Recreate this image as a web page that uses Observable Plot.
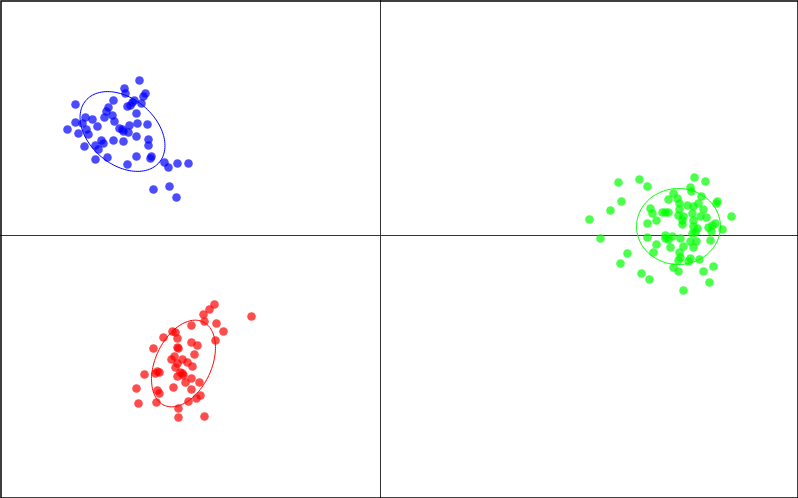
<!DOCTYPE html>
<html>
<head>
<meta charset="utf-8">
<script src="https://cdn.jsdelivr.net/npm/d3@7"></script>
<script src="https://cdn.jsdelivr.net/npm/@observablehq/plot@0.6"></script>
<style>
html, body { margin: 0; padding: 0; background: #fff; overflow: hidden; }
#chart svg { display: block; }
</style>
</head>
<body>
<div id="chart"></div>
<script>
// Cluster points (x, y) in chart units; origin at the crosshair, y up
const blueX = [-241,-256,-255,-235,-237,-267,-246,-248,-253,-239,-305,-272,-274,-250,-244,-268,-276,-295,-288,-305,-298,-266,-243,-233,-283,-251,-313,-294,-261,-257,-252,-302,-292,-244,-267,-257,-232,-232,-279,-277,-285,-296,-282,-244,-229,-230,-273,-285,-216,-212,-203,-192,-253,-211,-227,-204,-258];
const blueY = [155,147,142,142,139,135,135,133,129,132,131,128,124,130,122,120,118,118,116,113,112,114,112,111,109,110,106,106,107,104,103,102,101,99,95,94,96,90,95,92,90,89,86,79,79,77,78,76,73,68,72,72,71,49,46,38,106];

const redX = [-166,-171,-177,-129,-176,-189,-164,-157,-208,-205,-217,-203,-165,-189,-183,-227,-203,-202,-186,-206,-209,-198,-193,-203,-188,-205,-223,-221,-225,-236,-198,-197,-203,-189,-195,-181,-244,-207,-189,-223,-221,-180,-184,-192,-224,-242,-202,-202,-176,-200];
const redY = [-69,-74,-79,-81,-86,-90,-88,-96,-96,-97,-102,-103,-105,-107,-110,-113,-112,-113,-119,-121,-124,-124,-127,-128,-131,-132,-136,-137,-138,-139,-138,-140,-141,-143,-147,-147,-153,-152,-154,-155,-158,-160,-163,-166,-167,-168,-173,-182,-181,-137];

const greenX = [314,325,238,259,267,310,311,293,321,241,288,297,337,336,318,299,307,313,270,230,299,323,282,285,288,272,312,298,303,320,326,351,209,276,302,313,267,302,335,332,313,328,317,342,315,331,312,220,267,285,288,292,300,310,316,330,276,290,303,313,299,273,247,300,310,319,298,308,240,293,333,323,298,261,269,329,303,285];
const greenY = [58,54,53,56,49,48,44,42,39,34,36,37,34,32,32,32,30,29,27,25,26,26,23,23,23,22,22,20,19,19,18,19,16,15,15,15,12,11,12,10,9,8,7,6,3,4,2,-3,-2,-3,-4,-1,-3,-6,-6,-5,-9,-12,-11,-12,-17,-17,-18,-22,-23,-24,-25,-26,-28,-32,-31,-36,-36,-38,-44,-47,-55,0];

// Ellipse parameters per cluster: center x, center y, semi-axes, rotation (deg)
const clusters = ["Cluster 1", "Cluster 2", "Cluster 3"];
const colors = ["#0000ff", "#ff0000", "#00ff00"];
const ellCx = [-258, -197, 298];
const ellCy = [104, -128, 9];
const ellA = [48, 46, 42];
const ellB = [33, 28, 38];
const ellAngle = [-40, 65, 0];

const seriesX = [blueX, redX, greenX];
const seriesY = [blueY, redY, greenY];

const points = [];
clusters.forEach((c, i) => {
  seriesX[i].forEach((x, j) => points.push({cluster: c, x, y: seriesY[i][j]}));
});

const ellipsePts = [];
clusters.forEach((c, i) => {
  const th = ellAngle[i] * Math.PI / 180;
  for (let k = 0; k <= 120; k++) {
    const t = (k / 120) * 2 * Math.PI;
    const ex = ellA[i] * Math.cos(t), ey = ellB[i] * Math.sin(t);
    ellipsePts.push({
      cluster: c,
      x: ellCx[i] + ex * Math.cos(th) - ey * Math.sin(th),
      y: ellCy[i] + ex * Math.sin(th) + ey * Math.cos(th)
    });
  }
});

const chart = Plot.plot({
  width: 798,
  height: 498,
  margin: 0,
  x: {domain: [-380, 418], axis: null},
  y: {domain: [-263, 235], axis: null},
  color: {domain: clusters, range: colors},
  marks: [
    Plot.ruleX([0], {stroke: "#333", strokeWidth: 1}),
    Plot.ruleY([0], {stroke: "#333", strokeWidth: 1}),
    Plot.line(ellipsePts, {x: "x", y: "y", z: "cluster", stroke: "cluster", strokeWidth: 1, curve: "linear"}),
    Plot.dot(points, {x: "x", y: "y", fill: "cluster", r: 4.3, fillOpacity: 0.7, stroke: "none"}),
    Plot.frame({stroke: "#000", strokeWidth: 1.5, inset: 0.5})
  ]
});
document.getElementById("chart").append(chart);
</script>
</body>
</html>
